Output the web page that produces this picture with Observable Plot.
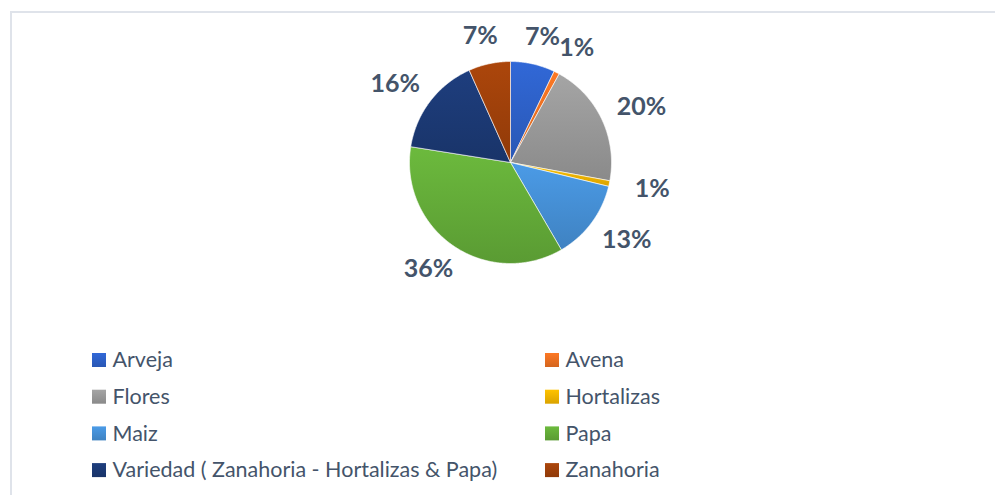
<!DOCTYPE html>
<html>
<head>
<meta charset="utf-8">
<script src="https://cdn.jsdelivr.net/npm/d3@7"></script>
<script src="https://cdn.jsdelivr.net/npm/@observablehq/plot@0.6"></script>
<style>
  html, body { margin: 0; padding: 0; background: #fff; }
  #frame { position: absolute; left: 10px; top: 11px; width: 985px; height: 484px;
           border-left: 2px solid #dfe3ea; border-top: 2px solid #dfe3ea; }
  #chart { position: absolute; left: 0; top: 0; }
</style>
</head>
<body>
<div id="frame"></div>
<div id="chart"></div>
<script>
// ---- data ----
const categories = ["Arveja", "Avena", "Flores", "Hortalizas", "Maiz", "Papa",
                    "Variedad ( Zanahoria - Hortalizas & Papa)", "Zanahoria"];
const values = [7.1, 0.9, 19.9, 0.9, 12.8, 35.9, 15.8, 6.7];
const labels = ["7%", "1%", "20%", "1%", "13%", "36%", "16%", "7%"];
const colors = ["#2e63cc", "#f07222", "#9c9c9c", "#f7b900", "#4793db", "#66b03a", "#1c3b77", "#a3420a"];

// ---- layout ----
const W = 995, H = 495;
const cx = 510, cy = 162, R = 101;

const pie = d3.pie().sort(null).value(d => d.value)(
  categories.map((c, i) => ({name: c, value: values[i], label: labels[i], color: colors[i]}))
);

// polygon points for each slice (angle 0 at 12 o'clock, clockwise; y downward)
const slicePts = [];
pie.forEach((p, i) => {
  slicePts.push({k: i, x: cx, y: cy, color: p.data.color});
  const n = Math.max(2, Math.ceil((p.endAngle - p.startAngle) / 0.01));
  for (let j = 0; j <= n; j++) {
    const a = p.startAngle + (p.endAngle - p.startAngle) * j / n;
    slicePts.push({k: i, x: cx + R * Math.sin(a), y: cy - R * Math.cos(a), color: p.data.color});
  }
  slicePts.push({k: i, x: cx, y: cy, color: p.data.color});
});

// outside labels
const labelPts = pie.map(p => {
  const a = (p.startAngle + p.endAngle) / 2;
  const s = Math.sin(a), c = -Math.cos(a);
  const d = R + 18;
  return {x: cx + d * s + s * 26, y: cy + d * c + c * 10, text: p.data.label};
});

// legend (two columns)
const legend = pie.map((p, i) => ({
  x: i % 2 === 0 ? 92 : 545,
  y: 360 + Math.floor(i / 2) * 36.7,
  name: p.data.name, color: p.data.color
}));

const chart = Plot.plot({
  width: W, height: H,
  margin: 0,
  x: {domain: [0, W], range: [0, W], axis: null},
  y: {domain: [0, H], range: [0, H], axis: null},
  style: {background: "transparent", fontFamily: "Lato, 'Open Sans', sans-serif"},
  marks: [
    Plot.line(slicePts, {x: "x", y: "y", z: "k", fill: "color", stroke: "#ffffff", strokeWidth: 0.6, curve: "linear"}),
    Plot.text(labelPts, {x: "x", y: "y", text: "text", fill: "#44546a", fontSize: 25, fontWeight: "bold"}),
    Plot.rect(legend, {x1: "x", x2: d => d.x + 14, y1: d => d.y - 7, y2: d => d.y + 7, fill: "color"}),
    Plot.text(legend, {x: d => d.x + 20, y: "y", text: "name", textAnchor: "start", fill: "#44546a", fontSize: 21.5})
  ]
});

// vertical gradients like the Office style
const svg = d3.select(chart);
const defs = svg.insert("defs", ":first-child");
const gid = {};
colors.forEach((c, i) => {
  const g = defs.append("linearGradient").attr("id", "grad" + i)
    .attr("x1", 0).attr("y1", 0).attr("x2", 0).attr("y2", 1);
  g.append("stop").attr("offset", "0%").attr("stop-color", d3.color(c).brighter(0.15).formatHex());
  g.append("stop").attr("offset", "100%").attr("stop-color", d3.color(c).darker(0.35).formatHex());
  gid[d3.color(c).formatHex()] = "url(#grad" + i + ")";
});
svg.selectAll("path, rect").each(function() {
  const f = this.getAttribute("fill");
  if (f) {
    const c = d3.color(f);
    if (c && gid[c.formatHex()]) this.setAttribute("fill", gid[c.formatHex()]);
  }
});
document.getElementById("chart").appendChild(chart);
</script>
</body>
</html>
